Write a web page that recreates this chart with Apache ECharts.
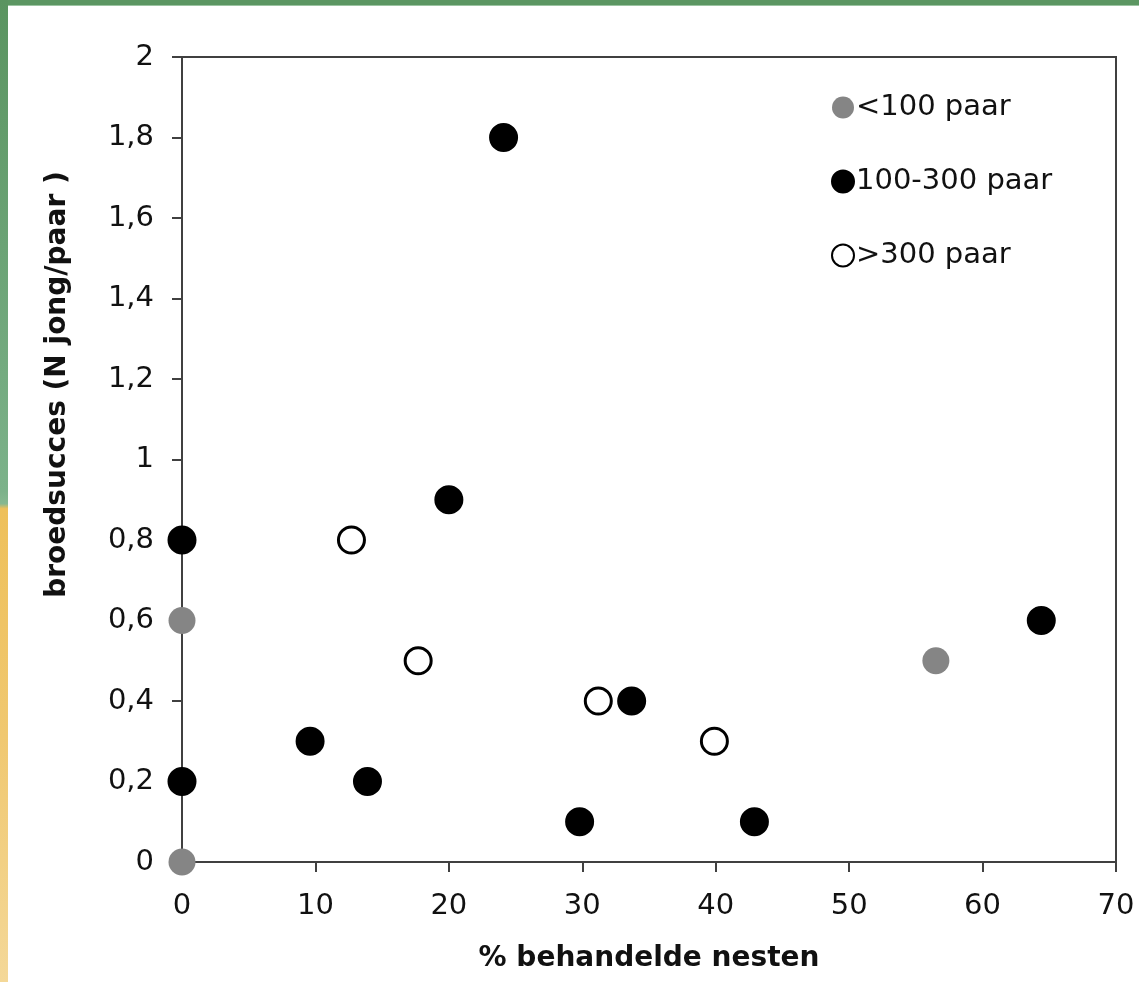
<!DOCTYPE html>
<html>
<head>
<meta charset="utf-8">
<script src="https://cdn.jsdelivr.net/npm/echarts@6/dist/echarts.min.js"></script>
<style>
  html, body { margin: 0; padding: 0; background: #ffffff; }
  #wrap { position: relative; width: 1139px; height: 982px; overflow: hidden; background: #fff; }
  #topbar { position: absolute; left: 0; top: 0; width: 1139px; height: 5px; background: #5c9662; border-bottom: 1px solid #9cc4a2; }
  #leftbar { position: absolute; left: 0; top: 0; width: 8px; height: 982px;
    background: linear-gradient(to bottom, #5a9460 0%, #7cb28a 50%, #86b890 51.3%, #eec05a 51.8%, #f0c870 75%, #f4d898 100%); }
  #chart { position: absolute; left: 0; top: 0; width: 1139px; height: 982px; }
</style>
</head>
<body>
<div id="wrap">
  <div id="chart"></div>
  <div id="topbar"></div>
  <div id="leftbar"></div>
</div>
<script>
// Series: [% behandelde nesten, broedsucces]
const seriesNames = ['<100 paar', '100-300 paar', '>300 paar'];
const smallColonies = [[0, 0.6], [0, 0], [56.5, 0.5]];
const mediumColonies = [[0, 0.8], [0, 0.2], [9.6, 0.3], [13.9, 0.2], [20, 0.9], [24.1, 1.8], [29.8, 0.1], [33.7, 0.4], [42.9, 0.1], [64.4, 0.6]];
const largeColonies = [[12.7, 0.8], [17.7, 0.5], [31.2, 0.4], [39.9, 0.3]];
const xTicks = [0, 10, 20, 30, 40, 50, 60, 70];
const yTicks = [0, 0.2, 0.4, 0.6, 0.8, 1, 1.2, 1.4, 1.6, 1.8, 2];

const FONT = 'DejaVu Sans';
const chart = echarts.init(document.getElementById('chart'), null, { renderer: 'canvas' });
chart.setOption({
  animation: false,
  backgroundColor: 'transparent',
  textStyle: { fontFamily: FONT, color: '#111' },
  grid: { left: 182, right: 23, top: 57, bottom: 120, show: true, borderColor: '#404040', borderWidth: 2, backgroundColor: 'transparent' },
  legend: {
    orient: 'vertical', left: 826, top: 88, itemGap: 45,
    itemWidth: 22, itemHeight: 22, icon: 'circle',
    textStyle: { fontFamily: FONT, fontSize: 29, color: '#111', padding: [0, 0, 0, -3] },
    data: seriesNames
  },
  xAxis: {
    type: 'value', min: xTicks[0], max: xTicks[xTicks.length - 1], interval: 10,
    name: '% behandelde nesten', nameLocation: 'middle', nameGap: 83,
    nameTextStyle: { fontFamily: FONT, fontSize: 28, fontWeight: 'bold', color: '#111' },
    axisLine: { lineStyle: { color: '#404040', width: 2 } },
    axisTick: { length: 10, lineStyle: { color: '#404040', width: 2 } },
    axisLabel: { fontFamily: FONT, fontSize: 29, color: '#111', margin: 30 },
    splitLine: { show: false }
  },
  yAxis: {
    type: 'value', min: yTicks[0], max: yTicks[yTicks.length - 1], interval: 0.2,
    name: 'broedsucces (N jong/paar )', nameLocation: 'middle', nameGap: 110, nameRotate: 90,
    nameTextStyle: { fontFamily: FONT, fontSize: 28, fontWeight: 'bold', color: '#111', padding: [0, 0, 0, 150] },
    axisLine: { lineStyle: { color: '#404040', width: 2 } },
    axisTick: { length: 10, lineStyle: { color: '#404040', width: 2 } },
    axisLabel: { fontFamily: FONT, fontSize: 29, color: '#111', margin: 28,
      formatter: v => String(Number(v.toFixed(1))).replace('.', ',') },
    splitLine: { show: false }
  },
  series: [
    { name: seriesNames[0], type: 'scatter', data: smallColonies, symbolSize: 27,
      itemStyle: { color: '#858585', opacity: 1 }, z: 3 },
    { name: seriesNames[1], type: 'scatter', data: mediumColonies, symbolSize: 26,
      itemStyle: { color: '#000', borderColor: '#000', borderWidth: 3, opacity: 1 }, z: 3 },
    { name: seriesNames[2], type: 'scatter', data: largeColonies, symbolSize: 26,
      itemStyle: { color: '#fff', borderColor: '#000', borderWidth: 3, opacity: 1 }, z: 3 }
  ]
});
</script>
</body>
</html>
